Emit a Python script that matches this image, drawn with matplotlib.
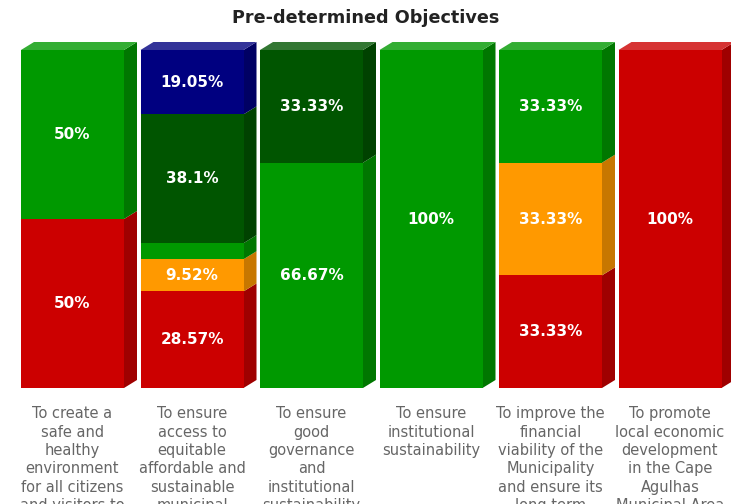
import matplotlib
matplotlib.use('Agg')
import matplotlib.pyplot as plt
from matplotlib.patches import Polygon
from matplotlib.colors import to_rgb
import numpy as np

# objectives (x categories), labels wrapped as in the original chart
categories = [
    "To create a\nsafe and\nhealthy\nenvironment\nfor all citizens\nand visitors to",
    "To ensure\naccess to\nequitable\naffordable and\nsustainable\nmunicipal",
    "To ensure\ngood\ngovernance\nand\ninstitutional\nsustainability",
    "To ensure\ninstitutional\nsustainability",
    "To improve the\nfinancial\nviability of the\nMunicipality\nand ensure its\nlong term",
    "To promote\nlocal economic\ndevelopment\nin the Cape\nAgulhas\nMunicipal Area",
]

# percentage of KPIs per status, stacked bottom -> top
kpi_not_met = [50, 28.57, 0, 0, 33.33, 100]
kpi_almost_met = [0, 9.52, 0, 0, 33.33, 0]
kpi_met = [50, 4.76, 66.67, 100, 33.33, 0]
kpi_well_met = [0, 38.1, 33.33, 0, 0, 0]
kpi_extremely_well_met = [0, 19.05, 0, 0, 0, 0]

series = [
    ('KPI Not Met', kpi_not_met, '#cc0000'),
    ('KPI Almost Met', kpi_almost_met, '#ff9900'),
    ('KPI Met', kpi_met, '#009900'),
    ('KPI Well Met', kpi_well_met, '#005500'),
    ('KPI Extremely Well Met', kpi_extremely_well_met, '#000080'),
]


def shade(c, f):
    r = np.array(to_rgb(c))
    return tuple(r * f)


def tint(c, f):
    r = np.array(to_rgb(c))
    return tuple(r + (1 - r) * f)


W, H = 731, 504
fig = plt.figure(figsize=(W / 100, H / 100), dpi=100)
# pixel layout: bar centres at 72.5 + 119.5*i, y=0 at px 388, y=100 at px 50
step = 119.5
x0 = -72.5 / step
x1 = (W - 72.5) / step
ax = fig.add_axes([0, (H - 388) / H, 1, 338 / H])
ax.set_xlim(x0, x1)
ax.set_ylim(0, 100)
ax.axis('off')

bar_w = 103 / step
dx = 13 / step          # depth offset in x (data units)
dy = 8 / 338 * 100      # depth offset in y (data units)

x = np.arange(len(categories))
bottom = np.zeros(len(categories))
top_color = [None] * len(categories)
for name, vals, col in series:
    vals = np.array(vals, dtype=float)
    bars = ax.bar(x, vals, bar_w, bottom=bottom, color=col, label=name,
                  linewidth=0, zorder=2)
    for b, v in zip(bars, vals):
        if v <= 0:
            continue
        xl, xr = b.get_x(), b.get_x() + b.get_width()
        yb, yt = b.get_y(), b.get_y() + b.get_height()
        side = Polygon([(xr, yb), (xr + dx, yb + dy), (xr + dx, yt + dy), (xr, yt)],
                       closed=True, facecolor=shade(col, 0.78), edgecolor='none',
                       zorder=1, clip_on=False)
        ax.add_patch(side)
        if v > 5:
            ax.text(b.get_x() + b.get_width() / 2, yb + v / 2, f'{v:g}%',
                    ha='center', va='center', color='white', fontsize=11,
                    fontweight='bold', zorder=4)
    for i, v in enumerate(vals):
        if v > 0:
            top_color[i] = col
    bottom = bottom + vals

# top faces of each bar
for i, b in enumerate(bars):
    xl, xr = b.get_x(), b.get_x() + b.get_width()
    yt = bottom[i]
    top = Polygon([(xl, yt), (xl + dx, yt + dy), (xr + dx, yt + dy), (xr, yt)],
                  closed=True, facecolor=tint(top_color[i], 0.2), edgecolor='none',
                  zorder=1, clip_on=False)
    ax.add_patch(top)

for i, lab in enumerate(categories):
    ax.text(x[i], -5.4, lab, ha='center', va='top', color='#666666',
            fontsize=10.5, linespacing=1.28, clip_on=False)

fig.text(0.5, 1 - 18 / H, 'Pre-determined Objectives', ha='center', va='center',
         fontsize=12.7, fontweight='bold', color='#222222')

fig.savefig('out.png', dpi=100)
